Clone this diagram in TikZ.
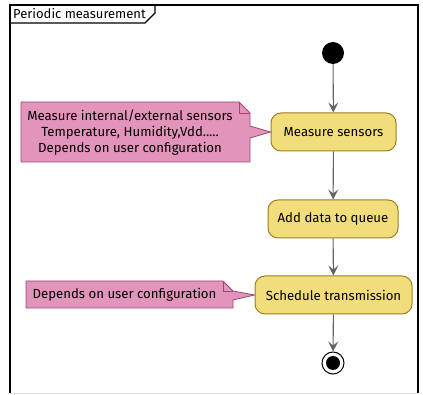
\documentclass[tikz,border=0pt]{standalone}
\usepackage{fontspec}
\setmainfont{Fira Sans}
\usetikzlibrary{arrows.meta}
\definecolor{actfill}{RGB}{241,221,122}
\definecolor{actdraw}{RGB}{156,126,36}
\definecolor{notefill}{RGB}{226,148,186}
\definecolor{notedraw}{RGB}{160,70,112}
\definecolor{flowgrey}{RGB}{100,100,100}
\tikzset{
  actbox/.style={draw=actdraw, fill=actfill, line width=1pt, rounded corners=10pt,
    minimum height=38pt, inner sep=0pt, font=\fontsize{13.2}{16}\selectfont},
  notebody/.style={draw=notedraw, fill=notefill, line width=0.8pt},
  notetext/.style={inner sep=0pt, align=center, font=\fontsize{13.2}{15.6}\selectfont},
  flow/.style={draw=flowgrey, line width=1.1pt, -{Stealth[length=10pt,width=10pt,inset=4pt]}},
  framestyle/.style={draw=black, line width=1.5pt}
}
\begin{document}
\begin{tikzpicture}[x=1pt,y=-1pt]
\useasboundingbox (0,0) rectangle (423,395);
% frame
\draw[framestyle] (10,393) -- (10,5) -- (418,5) -- (418,393);
\draw[draw=black!12, line width=1pt] (10,393.5) -- (418,393.5);
\draw[framestyle, line width=1.2pt] (10,23) -- (145,23) -- (155,13) -- (155,5);
\node[anchor=west, inner sep=0pt, font=\fontsize{13}{15}\selectfont] (title) at (13,14) {Periodic measurement};
% start / end
\node[circle, fill=black, minimum size=22pt, inner sep=0pt] (start) at (333,53) {};
\node[circle, draw=black, fill=white, line width=1pt, minimum size=22pt, inner sep=0pt] (stop) at (333,363) {};
\node[circle, fill=black, minimum size=14pt, inner sep=0pt] (stopin) at (333,363) {};
% activities
\node[actbox, minimum width=125pt] (measure) at (333.5,132) {Measure sensors};
\node[actbox, minimum width=130pt] (queue) at (333,219) {Add data to queue};
\node[actbox, minimum width=157pt] (sched) at (333.5,295) {Schedule transmission};
% flows
\draw[flow] (start) -- (measure);
\draw[flow] (measure) -- (queue);
\draw[flow] (queue) -- (sched);
\draw[flow] (sched) -- (stop);
% note 1
\path[notebody] (21,102) -- (239,102) -- (250,113) -- (250,126) -- (measure.west) -- (250,138) -- (250,162) -- (21,162) -- cycle;
\draw[notedraw, line width=0.8pt] (239,102) -- (239,113) -- (250,113);
\node[notetext] (note1) at (130,132.5) {Measure internal/external sensors\\Temperature, Humidity,Vdd.....\\Depends on user configuration};
% note 2
\path[notebody] (26,281) -- (223,281) -- (233,291) -- (sched.west) -- (233,300) -- (233,308) -- (26,308) -- cycle;
\draw[notedraw, line width=0.8pt] (223,281) -- (223,291) -- (233,291);
\node[notetext] (note2) at (124.5,295) {Depends on user configuration};
\end{tikzpicture}
\end{document}
